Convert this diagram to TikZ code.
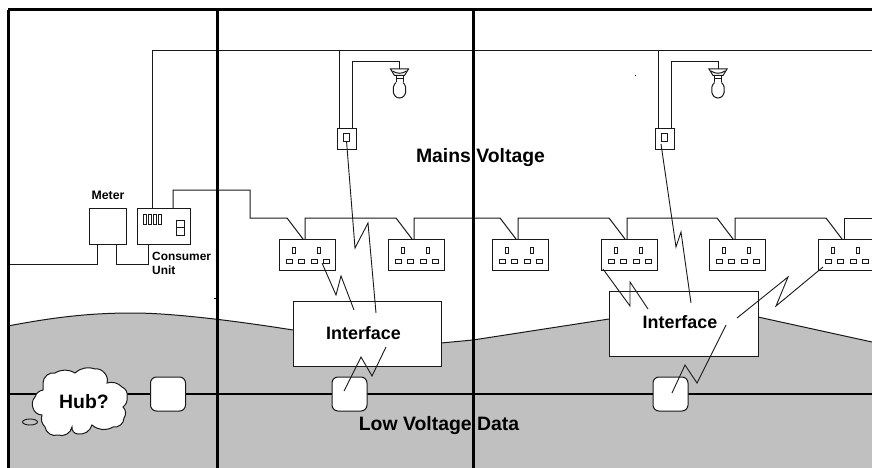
\documentclass[tikz,border=0pt]{standalone}
\usepackage{fontspec}
\setmainfont{Liberation Sans}
\usetikzlibrary{calc,shapes.geometric}
\definecolor{ground}{RGB}{192,192,192}
\definecolor{wire}{RGB}{25,25,25}
\tikzset{
  x=1pt,y=-1pt,
  box/.style={draw=wire,line width=1pt,fill=white,inner sep=0pt,anchor=north west},
  wirel/.style={draw=wire,line width=1pt},
  thickl/.style={draw=black,line width=3pt},
  data/.style={draw=black,line width=1.6pt},
  zig/.style={draw=wire,line width=.9pt},
  hubbox/.style={draw=wire,line width=1pt,fill=white,rounded corners=6pt,minimum width=35pt,minimum height=34pt,inner sep=0pt},
  lab/.style={font=\bfseries,inner sep=0pt},
  pin/.style={draw=wire,line width=.9pt,fill=white}
}
\newcommand{\rectnode}[6]{\node[box,minimum width=#4pt,minimum height=#5pt] (#1) at (#2,#3) {#6};}
\newcommand{\socketnode}[2]{%
  \rectnode{#1}{#2}{239}{56}{31}{}
  \foreach \dx in {15,40} \draw[pin] ($(#1.north west)+(\dx-1.75,8.5)$) rectangle ++(3.5,5.5);
  \foreach \dx in {10,22,35,47} \draw[pin] ($(#1.north west)+(\dx-3,20)$) rectangle ++(6,4);
}
\newcommand{\lampnode}[2]{%
  \coordinate (#1) at (#2,69);
  \draw[wirel] ($(#1)+(-9,0)$) -- ($(#1)+(9,0)$) -- ($(#1)+(5,6.5)$) -- ($(#1)+(-5,6.5)$) -- cycle;
  \draw[wirel] ($(#1)+(-7,2)$) .. controls ($(#1)+(-3,5)$) and ($(#1)+(3,5)$) .. ($(#1)+(7,2)$);
  \draw[wirel] ($(#1)+(-3.5,6.5)$) -- ++(0,7) ($(#1)+(3.5,6.5)$) -- ++(0,7) ($(#1)+(-3.5,10)$) -- ++(7,0);
  \draw[wirel] ($(#1)+(-3.5,13.5)$) .. controls ($(#1)+(-8.5,18)$) and ($(#1)+(-7,29)$) .. ($(#1)+(0,29)$)
     .. controls ($(#1)+(7,29)$) and ($(#1)+(8.5,18)$) .. ($(#1)+(3.5,13.5)$);
}
\begin{document}
\begin{tikzpicture}
\useasboundingbox (0,0) rectangle (872,468);
\fill[white] (0,0) rectangle (872,468);
% ground
\fill[ground] (8,468) -- (8,326) .. controls (60,316) and (95,313) .. (133,313)
  .. controls (170,313) and (230,320) .. (293,330) -- (441,343) -- (473,340)
  -- (609,319) .. controls (640,310) and (700,304) .. (758,317) -- (872,342) -- (872,468) -- cycle;
\draw[wirel] (8,326) .. controls (60,316) and (95,313) .. (133,313)
  .. controls (170,313) and (230,320) .. (293,330);
\draw[wirel] (441,343) -- (473,340) -- (609,319);
\draw[wirel] (758,317) -- (872,342);
% stray marks
\fill[black] (635,75) rectangle ++(1,1);
\fill[black] (214,297.5) rectangle ++(3,1);
% coordinates at frame
\coordinate (ftl) at (8,10);
\coordinate (ftr) at (872,10);
\coordinate (fbl) at (8,468);
\coordinate (dl) at (8,394);
\coordinate (dr) at (872,394);
\coordinate (ml) at (8,264);
\coordinate (mr) at (872,51);
\coordinate (sr) at (872,218);
% data line
\draw[data] (dl) -- (dr);
% boxes
\rectnode{meter}{89}{208}{37}{36}{}
\rectnode{cu}{137}{208}{53}{36}{}
\rectnode{sw1}{337}{128}{19}{21}{}
\rectnode{sw2}{655}{128}{19}{21}{}
\rectnode{if1}{293}{301}{148}{65}{}
\rectnode{if2}{609}{291}{149}{65}{}
\draw[pin] (143.5,214) rectangle ++(3,10);
\draw[pin] (148.5,214) rectangle ++(3,10);
\draw[pin] (153.5,214) rectangle ++(3,10);
\draw[pin] (158.5,214) rectangle ++(3,10);
\draw[pin] (176.5,220) rectangle ++(8,15.5);
\draw[pin] (176.5,227.5) -- ++(8,0);
\draw[pin] (343.5,133) rectangle ++(5.5,8);
\draw[pin] (661.5,133) rectangle ++(5.5,8);
\foreach \n/\x in {s1/279,s2/388,s3/492,s4/601,s5/709,s6/818} {\socketnode{\n}{\x}}
\node[hubbox] (n1) at (168,394) {};
\node[hubbox] (n2) at (349.5,394) {};
\node[hubbox] (n3) at (670.5,394) {};
% cloud
\draw[wirel,fill=white] (43,383) to[bend left=50] (55,373) to[bend left=30] (75,373)
  to[bend left=30] (95,369) to[bend left=60] (107,383) to[bend left=30] (122,387)
  to[bend left=40] (127,397) to[bend left=30] (123,407) to[bend left=40] (124,418)
  to[bend left=50] (113,427) to[bend left=35] (92,425) to[bend left=40] (78,434)
  to[bend left=50] (72,427) to[bend left=50] (58,435) to[bend left=50] (45,427)
  to[bend left=30] (42,415) to[bend left=35] (33,408) to[bend left=30] (35,397)
  to[bend left=30] (43,390) -- cycle;
\node[font=\bfseries\fontsize{19.4}{20}\selectfont,inner sep=0pt] (hub) at (84,402) {Hub?};
\node[draw=wire,line width=.9pt,ellipse,inner sep=0pt,minimum width=15pt,minimum height=6pt,fill=ground] (blip) at (30,422) {};
% mains wiring
\draw[wirel] (mr) -- (152,51) -- (152,208);
\draw[wirel] ($(cu.north west)+(36,0)$) -- (173,190) -- (250,190) -- (250,218) -- (287,218) -- ($(s1.north west)+(24,0)$);
\foreach \a/\b in {s1/s2,s2/s3,s3/s4,s4/s5,s5/s6} {
  \draw[wirel] ($(\a.north west)+(26,0)$) |- ($(\b.north west)+(8,-21)$) -- ($(\b.north west)+(24,0)$);
}
\draw[wirel] ($(s6.north west)+(26,0)$) |- (sr);
\draw[wirel] ($(meter.south west)+(8,0)$) |- (ml);
\draw[wirel] ($(meter.south west)+(27,0)$) -- (116,264) -- (148,264) -- ($(cu.south west)+(11,0)$);
% lights
\lampnode{l1}{399.5}
\lampnode{l2}{718}
\draw[wirel] (339,51) -- ($(sw1.north west)+(2,0)$);
\draw[wirel] ($(sw1.north west)+(15.5,0)$) -- (352.5,62) -- (399.5,62) -- (l1);
\draw[wirel] (658,51) -- ($(sw2.north west)+(3,0)$);
\draw[wirel] ($(sw2.north west)+(16,0)$) -- (671,62) -- (718,62) -- (l2);
% zigzags
\coordinate (z1) at (376,313);
\coordinate (z2) at (354,310);
\coordinate (z3) at (386,347);
\coordinate (z4) at (344,391);
\coordinate (z5) at (691,303);
\coordinate (z6) at (648,309);
\coordinate (z7) at (737,318);
\coordinate (z8) at (726,325);
\coordinate (z9) at (672,393);
\coordinate (y1) at (346.5,141);
\coordinate (y2) at (661,144);
\coordinate (y3) at (322,263);
\coordinate (y4) at (603,269);
\coordinate (y5) at (823,267);
\draw[zig] (y1) -- (355,248) -- (368,223) -- (z1);
\draw[zig] (y2) -- (676,247) -- (681,232) -- (z5);
\draw[zig] (y3) -- (336,295) -- (341,276) -- (z2);
\draw[zig] (y4) -- (630,306) -- (630,282) -- (z6);
\draw[zig] (y5) -- (776,306) -- (788,277) -- (z7);
\draw[zig] (z3) -- (372,376) -- (361,357) -- (z4);
\draw[zig] (z8) -- (697,383) -- (685,365) -- (z9);
% frame
\draw[thickl] (ftl) -- (ftr);
\draw[thickl] (ftl) -- (fbl);
\draw[thickl] (217,10) -- (217,468);
\draw[thickl] (473,10) -- (473,468);
% texts
\node[lab,font=\bfseries\fontsize{12.3}{13}\selectfont] (tm) at (108,195) {Meter};
\node[lab,font=\bfseries\fontsize{11.9}{14}\selectfont,align=left,anchor=west] (tc) at (152,263) {Consumer\\Unit};
\node[lab,font=\bfseries\fontsize{19.4}{20}\selectfont] (tmv) at (480.5,158) {Mains Voltage};
\node[lab,font=\bfseries\fontsize{19.4}{20}\selectfont] (tlv) at (439,426) {Low Voltage Data};
\node[lab,font=\bfseries\fontsize{17.9}{18}\selectfont] (ti1) at (363.5,333) {Interface};
\node[lab,font=\bfseries\fontsize{17.9}{18}\selectfont] (ti2) at (680,322) {Interface};
\end{tikzpicture}
\end{document}
